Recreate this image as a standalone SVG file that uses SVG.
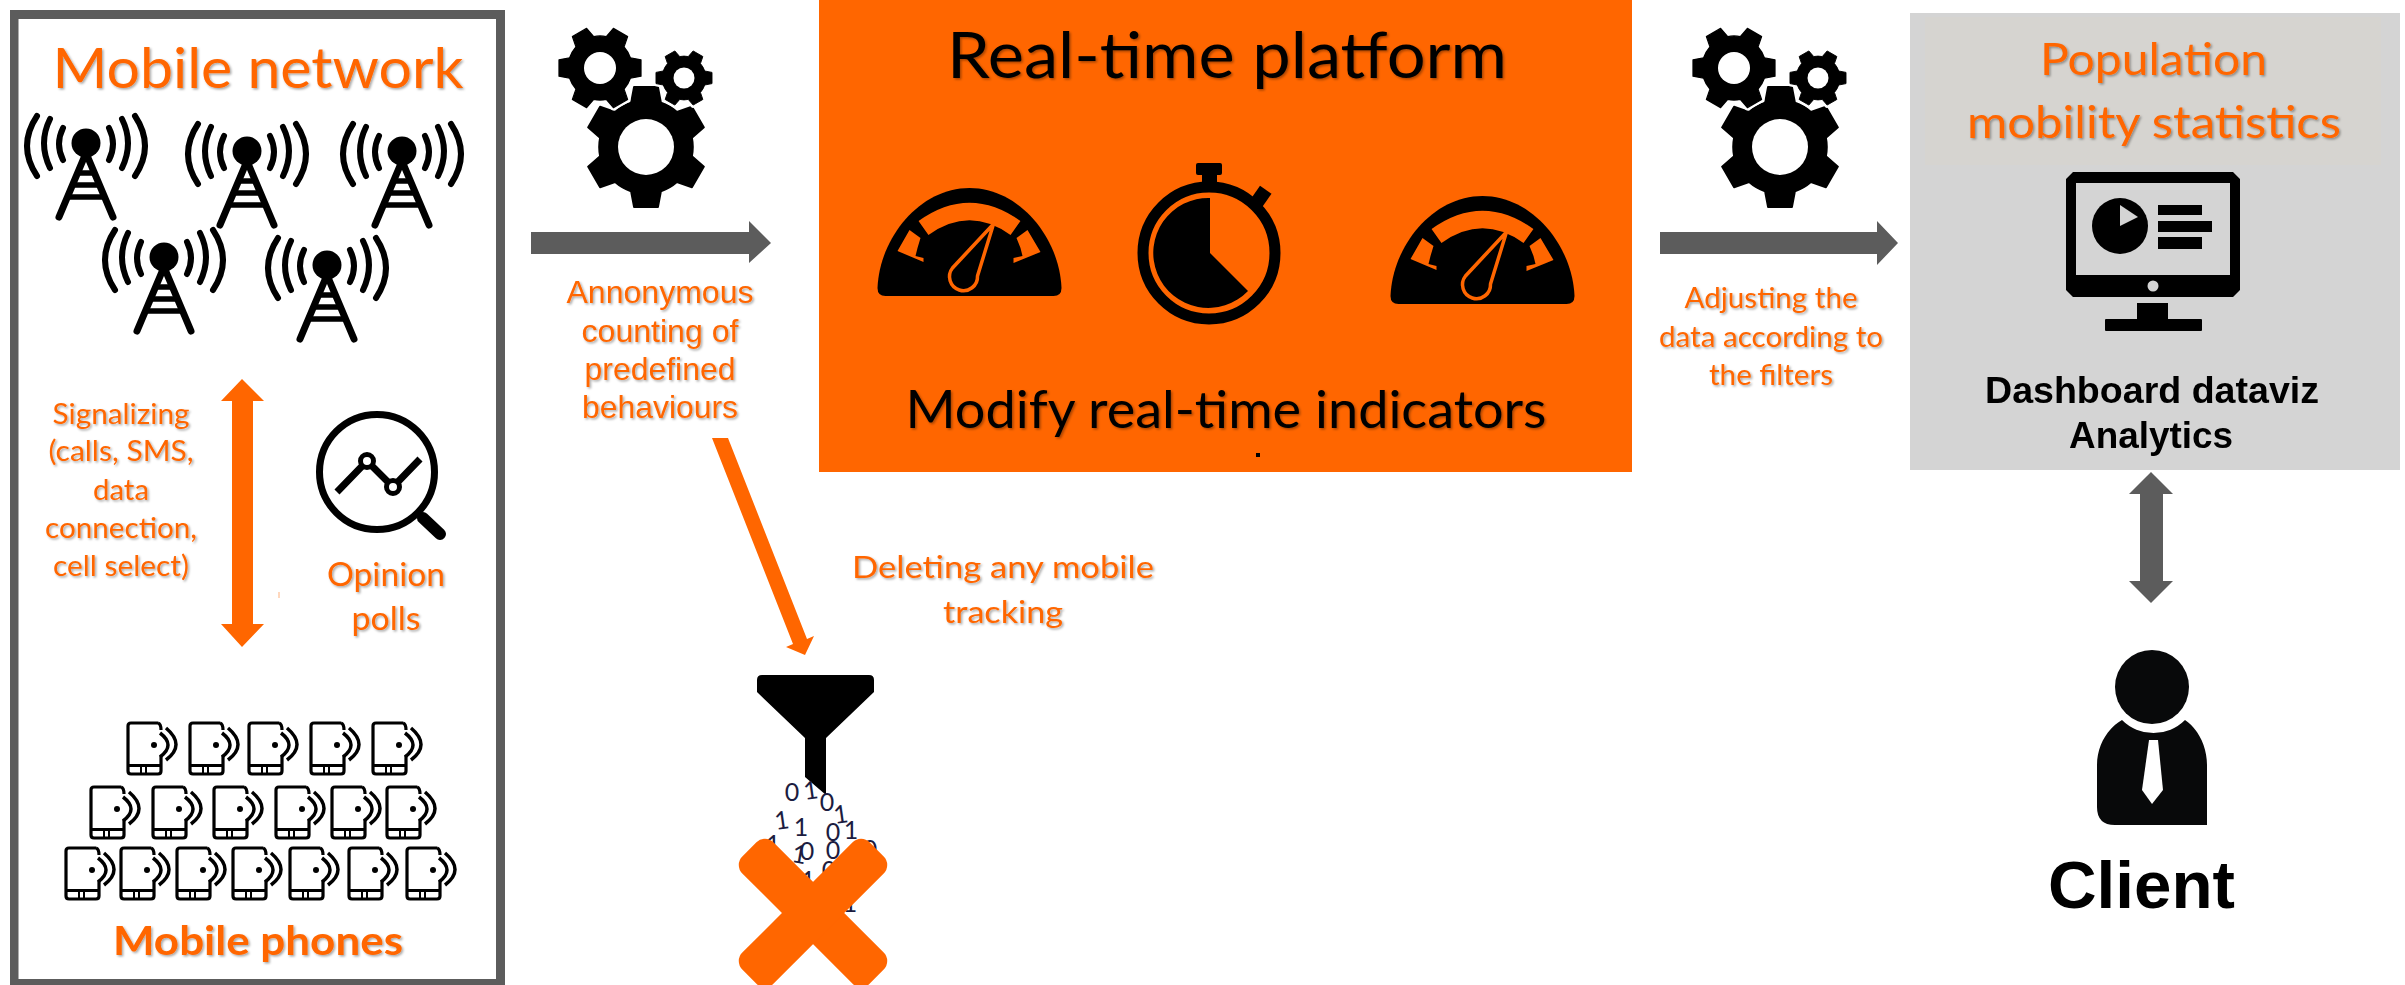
<svg xmlns="http://www.w3.org/2000/svg" xmlns:xlink="http://www.w3.org/1999/xlink" width="2405" height="985" viewBox="0 0 2405 985">
<style>
text{font-family:"Lato","Open Sans",sans-serif;text-anchor:middle}
.sh{filter:url(#sh)}
.soft{filter:url(#soft)}
.o{fill:#ff6600}
.k{fill:#000}
.ar{font-family:"Liberation Sans",Arial,sans-serif}
.b{font-weight:700}
.bin{font-family:"Liberation Sans",Arial,sans-serif;font-size:25px;fill:#1c1c40}
.grey{fill:#5c5c5c}
</style>
<defs>
<filter id="sh" x="-5%" y="-15%" width="110%" height="130%"><feDropShadow dx="1.5" dy="1.5" stdDeviation="1.2" flood-color="#000" flood-opacity=".35"/></filter>
<filter id="soft" x="-5%" y="-5%" width="110%" height="110%"><feGaussianBlur stdDeviation=".6"/></filter>
<g id="tower">
<circle cx="0" cy="0" r="14.500" fill="#000"/>
<g fill="none" stroke="#000" stroke-width="6" stroke-linecap="round">
<path d="M-49-27Q-69 3-49 33M-36-24Q-48 0-36 25M-23-15Q-31 1-23 17M49-27Q69 3 49 33M36-24Q48 0 36 25M23-15Q31 1 23 17"/>
<path stroke-width="7" d="M0 10L-27 74M0 10L27 74"/>
<path stroke-width="5.500" stroke-linecap="butt" d="M-8.400 30H8.400M-13.500 42H13.500M-18.600 54H18.600"/>
</g>
</g>
<g id="phone">
<g fill="none" stroke="#000" stroke-width="3.200">
<path d="M32 2H5Q2 2 2 5V50Q2 53 5 53H32Q35 53 35 50V35M32 2Q35 3 35 9"/>
<path d="M2 44.500H35"/>
<path stroke-width="2" d="M15 45V52M20 45V52"/>
<path stroke-width="3.500" d="M34 12Q50 24 34 36M40 7Q60 24 40 39"/>
</g>
<circle cx="28" cy="24" r="3" fill="#000"/>
</g>
<path id="gear" stroke-linejoin="round" d="M-25-74L-20-100L20-100L25-74A78 78 0 0 1 51.600-58.650L76.600-67.300L96.600-32.700L76.600-15.350A78 78 0 0 1 76.600 15.350L96.600 32.700L76.600 67.300L51.600 58.650A78 78 0 0 1 25 74L20 100L-20 100L-25 74A78 78 0 0 1-51.600 58.650L-76.600 67.300L-96.600 32.700L-76.600 15.350A78 78 0 0 1-76.600-15.350L-96.600-32.700L-76.600-67.300L-51.600-58.650A78 78 0 0 1-25-74Z"/>
<g id="gears">
<use xlink:href="#gear" href="#gear" transform="translate(0 1) scale(.6)" fill="#000" stroke="#000" stroke-width="3"/>
<circle cx="0" cy="1" r="28" fill="#fff"/>
<use xlink:href="#gear" href="#gear" transform="translate(-46 -78) rotate(30) scale(.41)" fill="#fff" stroke="#fff" stroke-width="14"/>
<use xlink:href="#gear" href="#gear" transform="translate(38 -68) rotate(30) scale(.28)" fill="#fff" stroke="#fff" stroke-width="20"/>
<use xlink:href="#gear" href="#gear" transform="translate(-46 -78) rotate(30) scale(.41)" fill="#000" stroke="#000" stroke-width="3"/>
<circle cx="-46" cy="-78" r="16" fill="#fff"/>
<use xlink:href="#gear" href="#gear" transform="translate(38 -68) rotate(30) scale(.28)" fill="#000" stroke="#000" stroke-width="3"/>
<circle cx="38" cy="-68" r="10.500" fill="#fff"/>
</g>
<g id="gauge">
<path fill="#000" d="M-92 100C-90 50-50 0 0 0C50 0 90 50 92 100Q92 108 84 108H-84Q-92 108-92 100Z"/>
<path fill="none" stroke="#ff6600" stroke-width="17" d="M-46 40Q0 7 46 40"/>
<path fill="#ff6600" d="M-60 42L-72 63L-46 74V70L-54 68L-52 60L-49 50ZM58 42L71 64L44 75V70L53 68L51 60L47 50Z"/>
<path fill="#000" stroke="#ff6600" stroke-width="3.500" d="M24 36L-17 80A14 14 0 1 0 8 88Z"/>
</g>
</defs>

<rect width="2405" height="985" fill="#fff"/>

<g id="mobile-network">
<path class="grey" fill-rule="evenodd" d="M10 10H505V985H10ZM18.500 19V979H496V19Z"/>
<text class="o sh" x="258" y="88" font-size="56" textLength="411" lengthAdjust="spacingAndGlyphs">Mobile network</text>
<g class="soft">
<use xlink:href="#tower" href="#tower" x="86" y="143"/>
<use xlink:href="#tower" href="#tower" x="247" y="151"/>
<use xlink:href="#tower" href="#tower" x="402" y="151"/>
<use xlink:href="#tower" href="#tower" x="164" y="257"/>
<use xlink:href="#tower" href="#tower" x="327" y="265"/>
</g>
</g>

<g id="signalizing-label">
<text class="o sh" font-size="29" x="121" y="424" textLength="137" lengthAdjust="spacingAndGlyphs">Signalizing</text>
<text class="o sh" font-size="29" x="121" y="461" textLength="145" lengthAdjust="spacingAndGlyphs">(calls, SMS,</text>
<text class="o sh" font-size="29" x="121" y="500" textLength="56" lengthAdjust="spacingAndGlyphs">data</text>
<text class="o sh" font-size="29" x="121" y="538" textLength="152" lengthAdjust="spacingAndGlyphs">connection,</text>
<text class="o sh" font-size="29" x="121" y="576" textLength="136" lengthAdjust="spacingAndGlyphs">cell select)</text>
</g>

<g id="opinion-polls">
<g class="soft">
<g fill="none" stroke="#000">
<circle cx="377" cy="472" r="57.500" stroke-width="7"/>
<path stroke-width="7" d="M337 492L367 461L393 487L420 459"/>
<path stroke-width="12" stroke-linecap="round" d="M423 518L440 534"/>
</g>
<circle cx="367" cy="461" r="6.500" fill="#fff" stroke="#000" stroke-width="5"/>
<circle cx="393" cy="487" r="6.500" fill="#fff" stroke="#000" stroke-width="5"/>
</g>
<text class="o sh" font-size="32" x="386" y="586" textLength="118" lengthAdjust="spacingAndGlyphs">Opinion</text>
<text class="o sh" font-size="32" x="386" y="630" textLength="69" lengthAdjust="spacingAndGlyphs">polls</text>
<rect x="278.500" y="592" width="1" height="6" fill="#ffb27f"/>
</g>

<g id="mobile-phones">
<g class="soft">
<use xlink:href="#phone" href="#phone" x="126" y="721"/>
<use xlink:href="#phone" href="#phone" x="188" y="721"/>
<use xlink:href="#phone" href="#phone" x="247" y="721"/>
<use xlink:href="#phone" href="#phone" x="309" y="721"/>
<use xlink:href="#phone" href="#phone" x="371" y="721"/>
<use xlink:href="#phone" href="#phone" x="89" y="785"/>
<use xlink:href="#phone" href="#phone" x="151" y="785"/>
<use xlink:href="#phone" href="#phone" x="212" y="785"/>
<use xlink:href="#phone" href="#phone" x="274" y="785"/>
<use xlink:href="#phone" href="#phone" x="330" y="785"/>
<use xlink:href="#phone" href="#phone" x="385" y="785"/>
<use xlink:href="#phone" href="#phone" x="64" y="846"/>
<use xlink:href="#phone" href="#phone" x="119" y="846"/>
<use xlink:href="#phone" href="#phone" x="175" y="846"/>
<use xlink:href="#phone" href="#phone" x="231" y="846"/>
<use xlink:href="#phone" href="#phone" x="288" y="846"/>
<use xlink:href="#phone" href="#phone" x="347" y="846"/>
<use xlink:href="#phone" href="#phone" x="405" y="846"/>
</g>
<text class="o sh b" font-size="40" x="258" y="955" textLength="290" lengthAdjust="spacingAndGlyphs">Mobile phones</text>
</g>

<g id="gears-left" class="soft"><use xlink:href="#gears" href="#gears" x="646" y="146"/></g>

<g id="counting-label">
<text class="o sh ar" font-size="31.700" x="660" y="303" textLength="187" lengthAdjust="spacingAndGlyphs">Annonymous</text>
<text class="o sh ar" font-size="31.700" x="660" y="342" textLength="157" lengthAdjust="spacingAndGlyphs">counting of</text>
<text class="o sh ar" font-size="31.700" x="660" y="380" textLength="151" lengthAdjust="spacingAndGlyphs">predefined</text>
<text class="o sh ar" font-size="31.700" x="660" y="418" textLength="156" lengthAdjust="spacingAndGlyphs">behaviours</text>
</g>

<g id="real-time-platform">
<rect x="819" y="0" width="813" height="472" fill="#ff6600"/>
<text class="k sh" font-size="64" x="1227" y="78" textLength="560" lengthAdjust="spacingAndGlyphs">Real-time platform</text>
<g class="soft">
<use xlink:href="#gauge" href="#gauge" x="969.500" y="188"/>
<use xlink:href="#gauge" href="#gauge" x="1482.500" y="196"/>
<g id="stopwatch">
<rect x="1196" y="163" width="26" height="12" rx="2" fill="#000"/>
<rect x="1202" y="173" width="15" height="12" fill="#000"/>
<rect x="1253" y="188" width="14" height="20" transform="rotate(35 1260 198)" fill="#000"/>
<circle cx="1209" cy="253" r="66" fill="#ff6600" stroke="#000" stroke-width="11"/>
<path fill="#000" d="M1210 253V198A55 55 0 1 0 1248 291Z"/>
</g>
</g>
<text class="k sh" font-size="52" x="1226" y="428" textLength="641" lengthAdjust="spacingAndGlyphs">Modify real-time indicators</text>
<rect x="1256" y="453" width="4" height="4" fill="#000"/>
</g>

<g id="deleting-label">
<text class="o sh" font-size="31" x="1003" y="578" textLength="302" lengthAdjust="spacingAndGlyphs">Deleting any mobile</text>
<text class="o sh" font-size="31" x="1003" y="623" textLength="120" lengthAdjust="spacingAndGlyphs">tracking</text>
</g>

<g id="filter-icon">
<path class="soft" fill="#000" d="M762 675H869Q874 675 874 680V692L826 738V795L805 777V738L757 692V680Q757 675 762 675Z"/>
<g class="bin">
<text x="792" y="801">0</text>
<text x="812" y="799" transform="rotate(-8 812 799)">1</text>
<text x="827" y="811">0</text>
<text x="842" y="823" transform="rotate(-8 842 823)">1</text>
<text x="783" y="829" transform="rotate(-8 783 829)">1</text>
<text x="801" y="836">1</text>
<text x="833" y="841">0</text>
<text x="851" y="839">1</text>
<text x="773" y="853">1</text>
<text x="798" y="863" transform="rotate(10 798 863)">1</text>
<text x="807" y="860">0</text>
<text x="833" y="859">0</text>
<text x="870" y="858">0</text>
<text x="829" y="879">0</text>
<text x="808" y="889">1</text>
<text x="850" y="912">1</text>
</g>
<g fill="#ff6600">
<rect x="723" y="891" width="180" height="44" rx="12" transform="rotate(45 813 913)"/>
<rect x="723" y="891" width="180" height="44" rx="12" transform="rotate(-45 813 913)"/>
</g>
</g>

<g id="gears-right" class="soft"><use xlink:href="#gears" href="#gears" x="1780" y="146"/></g>

<g id="adjusting-label">
<text class="o sh" font-size="29" x="1771" y="308" textLength="173" lengthAdjust="spacingAndGlyphs">Adjusting the</text>
<text class="o sh" font-size="29" x="1771" y="347" textLength="224" lengthAdjust="spacingAndGlyphs">data according to</text>
<text class="o sh" font-size="29" x="1771" y="385" textLength="124" lengthAdjust="spacingAndGlyphs">the filters</text>
</g>

<g id="population-statistics">
<rect x="1910" y="13" width="490" height="457" fill="#d4d4d4"/>
<rect x="1925" y="17" width="456" height="148" fill="#d6d4d0"/>
<text class="o sh" font-size="45" x="2153.500" y="75" textLength="227" lengthAdjust="spacingAndGlyphs">Population</text>
<text class="o sh" font-size="45" x="2154" y="138" textLength="374" lengthAdjust="spacingAndGlyphs">mobility statistics</text>
<g id="dashboard-icon" class="soft">
<path fill="#000" fill-rule="evenodd" d="M2073 172H2233L2240 179V290L2233 297H2073L2066 290V179ZM2076 183V275H2230V183Z"/>
<circle cx="2153" cy="286" r="5.500" fill="#d4d4d4"/>
<rect x="2137" y="303" width="31" height="18" fill="#000"/>
<rect x="2105" y="319" width="97" height="12" rx="1" fill="#000"/>
<circle cx="2120" cy="226" r="28" fill="#000"/>
<path fill="#d4d4d4" d="M2120 226V205L2138 217Z"/>
<rect x="2158" y="205" width="44" height="10" fill="#000"/>
<rect x="2158" y="221" width="54" height="11" fill="#000"/>
<rect x="2158" y="237" width="44" height="12" fill="#000"/>
</g>
<text class="k ar b" font-size="37.500" x="2152" y="403" textLength="334" lengthAdjust="spacingAndGlyphs">Dashboard dataviz</text>
<text class="k ar b" font-size="37.500" x="2151" y="448" textLength="164" lengthAdjust="spacingAndGlyphs">Analytics</text>
</g>

<g id="client">
<circle cx="2152" cy="687" r="37" fill="#08090a"/>
<path fill="#08090a" d="M2122 720A44.500 44.500 0 0 0 2185 720C2197 728 2207 745 2207 765V825H2115Q2097 825 2097 807V765C2097 745 2108 728 2122 720Z"/>
<path fill="#fff" d="M2149 740H2158L2163 790L2152 804L2142 790Z"/>
<text class="k ar b" font-size="67" x="2141.500" y="908" textLength="187" lengthAdjust="spacingAndGlyphs">Client</text>
</g>

<g id="connectors">
<path class="o" d="M242 379L264 401H253V624H264L242 647L221 624H232V401H221Z"/>
<path class="grey" d="M531 232H749V221L771 243L749 263V254H531Z"/>
<path class="grey" d="M1660 232H1877V221L1898 243L1877 265V254H1660Z"/>
<path class="o" d="M712 438H728L807 639L814 636L805 655L786 647L793 644Z"/>
<path class="grey" d="M2151 472L2173 494H2163V581H2173L2151 603L2129 581H2140V494H2129Z"/>
</g>
</svg>
